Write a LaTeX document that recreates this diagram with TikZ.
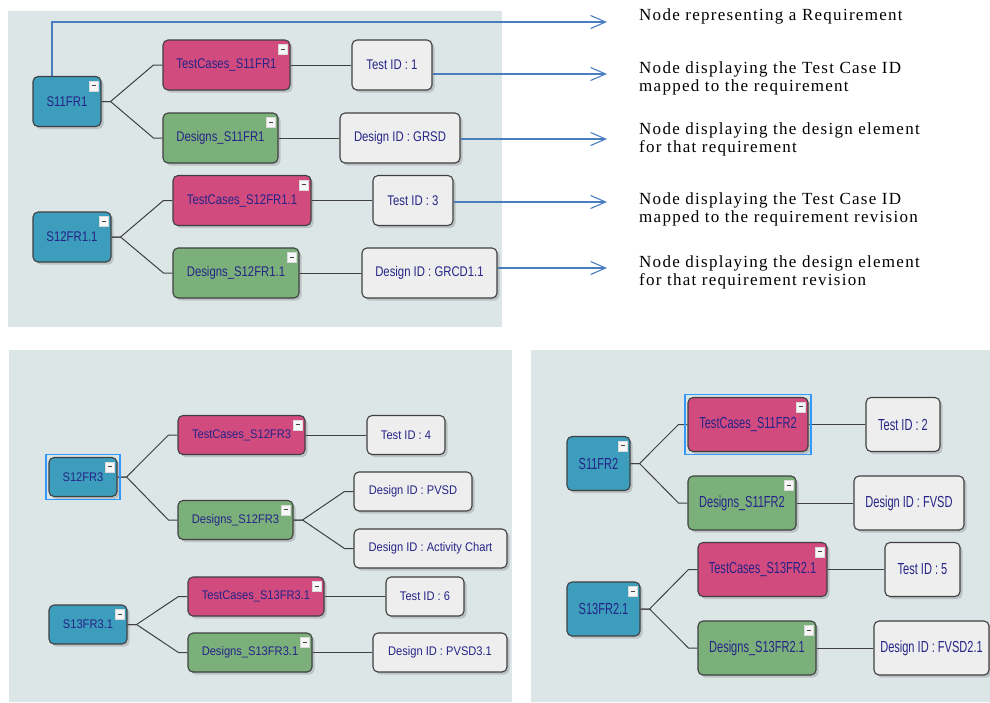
\documentclass[tikz,border=0pt]{standalone}
\usepackage{fontspec}
\setmainfont{Liberation Serif}
\newfontfamily\pfa[FakeStretch=0.81]{Liberation Sans}
\newfontfamily\pfb[FakeStretch=0.89]{Liberation Sans}
\newfontfamily\pfc[FakeStretch=0.69]{Liberation Sans}
\newfontfamily\notefont[LetterSpace=7.5]{Liberation Serif}
\usepackage{xcolor}
\usetikzlibrary{calc,arrows.meta,positioning,shadows}

\definecolor{reqcol}{RGB}{60,157,189}
\definecolor{tccol}{RGB}{210,75,126}
\definecolor{dgcol}{RGB}{123,176,123}
\definecolor{idcol}{RGB}{238,238,238}
\definecolor{panelcol}{RGB}{220,230,231}
\definecolor{inkcol}{RGB}{38,36,135}
\definecolor{notecol}{RGB}{74,124,192}
\definecolor{selcol}{RGB}{51,153,255}

\tikzset{
  box/.style={rectangle, rounded corners=5pt, draw=black!75, line width=1.1pt, text=inkcol, inner sep=2pt,
    drop shadow={shadow xshift=2.5pt, shadow yshift=-2.5pt, opacity=.35}},
  req/.style={box, fill=reqcol},
  tc/.style={box, fill=tccol},
  dg/.style={box, fill=dgcol},
  idn/.style={box, fill=idcol},
  pa/.style={font=\pfa\fontsize{14}{16}\selectfont, minimum height=50},
  pb/.style={font=\pfb\fontsize{12.5}{15}\selectfont, minimum height=39},
  pc/.style={font=\pfc\fontsize{16}{18}\selectfont, minimum height=54},
  link/.style={draw=black!75, line width=1pt},
  note/.style={draw=notecol, line width=1.1pt, -{Straight Barb[length=15pt,width=13pt]}},
  notetxt/.style={anchor=west, align=left, inner sep=0pt, font=\notefont\fontsize{17}{18}\selectfont},
  sel/.style={draw=selcol, line width=1.8pt},
  panel/.style={fill=panelcol},
  btn/.style={rectangle, draw=gray!30, fill=white!94!gray, inner sep=0pt, minimum width=9, minimum height=10,
    path picture={\draw[line width=1pt, black!75] ([xshift=-2pt]path picture bounding box.center) -- ([xshift=2pt]path picture bounding box.center);}}
}

\newcommand{\minusbtn}[1]{\node[btn] (#1-btn) at ($(#1.north east)+(-8,10)$) {};}
\newcommand{\branch}[2]{\draw[link] (#1.east) -- ++(9,0) -- ([xshift=-9pt]#2.west) -- (#2.west);}

\begin{document}
\begin{tikzpicture}[x=1pt, y=-1pt]
\useasboundingbox (0,0) rectangle (990,702);

% backgrounds
\fill[panel] (8,11) rectangle (502,327);
\fill[panel] (9,350) rectangle (512,702);
\fill[panel] (531,350) rectangle (990,702);

% top panel
\node[req, pa, minimum width=68] (r1) at (67,101.5) {S11FR1};
\node[tc, pa, minimum width=127] (tc1) at (226.5,65) {TestCases\_S11FR1};
\node[idn, pa, minimum width=80] (t1) at (392,65) {Test ID : 1};
\node[dg, pa, minimum width=115] (d1) at (220.5,138) {Designs\_S11FR1};
\node[idn, pa, minimum width=120] (g1) at (400,138) {Design ID : GRSD};
\node[req, pa, minimum width=78] (r2) at (72,237) {S12FR1.1};
\node[tc, pa, minimum width=138] (tc2) at (242,200.5) {TestCases\_S12FR1.1};
\node[idn, pa, minimum width=80] (t3) at (413,200.5) {Test ID : 3};
\node[dg, pa, minimum width=126] (d2) at (236,273) {Designs\_S12FR1.1};
\node[idn, pa, minimum width=135] (g2) at (429.5,273) {Design ID : GRCD1.1};

\branch{r1}{tc1}
\branch{r1}{d1}
\branch{r2}{tc2}
\branch{r2}{d2}
\draw[link] (tc1) -- (t1);
\draw[link] (d1) -- (g1);
\draw[link] (tc2) -- (t3);
\draw[link] (d2) -- (g2);

% bottom left panel
\node[req, pb, minimum width=68] (r3) at (83,477) {S12FR3};
\node[tc, pb, minimum width=127] (tc3) at (241.5,435) {TestCases\_S12FR3};
\node[idn, pb, minimum width=78] (t4) at (406,435) {Test ID : 4};
\node[dg, pb, minimum width=115] (d3) at (235.5,520) {Designs\_S12FR3};
\node[idn, pb, minimum width=118] (gp) at (413,491.5) {Design ID : PVSD};
\node[idn, pb, minimum width=153] (ga) at (430.5,548.5) {Design ID : Activity Chart};
\node[req, pb, minimum width=78] (r4) at (88,624.5) {S13FR3.1};
\node[tc, pb, minimum width=136] (tc4) at (256,596.5) {TestCases\_S13FR3.1};
\node[idn, pb, minimum width=78] (t6) at (425,596.5) {Test ID : 6};
\node[dg, pb, minimum width=124] (d4) at (250,652.5) {Designs\_S13FR3.1};
\node[idn, pb, minimum width=134] (gv) at (440,652.5) {Design ID : PVSD3.1};

\branch{r3}{tc3}
\branch{r3}{d3}
\branch{d3}{gp}
\branch{d3}{ga}
\branch{r4}{tc4}
\branch{r4}{d4}
\draw[link] (tc3) -- (t4);
\draw[link] (tc4) -- (t6);
\draw[link] (d4) -- (gv);

% bottom right panel
\node[req, pc, minimum width=63] (r5) at (598.5,463.5) {S11FR2};
\node[tc, pc, minimum width=120] (tc5) at (748,424.5) {TestCases\_S11FR2};
\node[idn, pc, minimum width=74] (t2) at (903,424.5) {Test ID : 2};
\node[dg, pc, minimum width=108] (d5) at (742,503) {Designs\_S11FR2};
\node[idn, pc, minimum width=110] (gf) at (909,503) {Design ID : FVSD};
\node[req, pc, minimum width=73] (r6) at (603.5,609) {S13FR2.1};
\node[tc, pc, minimum width=129] (tc6) at (762.5,569.5) {TestCases\_S13FR2.1};
\node[idn, pc, minimum width=75] (t5) at (922.5,569.5) {Test ID : 5};
\node[dg, pc, minimum width=118] (d6) at (757,648) {Designs\_S13FR2.1};
\node[idn, pc, minimum width=115] (gw) at (931.5,648) {Design ID : FVSD2.1};

\branch{r5}{tc5}
\branch{r5}{d5}
\branch{r6}{tc6}
\branch{r6}{d6}
\draw[link] (tc5) -- (t2);
\draw[link] (d5) -- (gf);
\draw[link] (tc6) -- (t5);
\draw[link] (d6) -- (gw);

\foreach \n in {r1,tc1,d1,r2,tc2,d2,r3,tc3,d3,r4,tc4,d4,r5,tc5,d5,r6,tc6,d6}
  {\minusbtn{\n}}

% selected nodes
\draw[sel] ([shift={(-2.5,-2.5)}]r3.north west) rectangle ([shift={(2.5,2.5)}]r3.south east);
\draw[sel] ([shift={(-2.5,-2.5)}]tc5.north west) rectangle ([shift={(2.5,2.5)}]tc5.south east);

% legend
\coordinate (a1) at (607,22);
\coordinate (a2) at (607,74);
\coordinate (a3) at (607,139);
\coordinate (a4) at (607,202);
\coordinate (a5) at (607,268);
\draw[note] ([xshift=-15pt]r1.north) |- (a1);
\draw[note] (t1.east |- a2) -- (a2);
\draw[note] (g1.east |- a3) -- (a3);
\draw[note] (t3.east |- a4) -- (a4);
\draw[note] (g2.east |- a5) -- (a5);

\node[notetxt] (n1) at (639,16) {Node representing a Requirement};
\node[notetxt] (n2) at (639,78) {Node displaying the Test Case ID\\mapped to the requirement};
\node[notetxt] (n3) at (639,139) {Node displaying the design element\\for that requirement};
\node[notetxt] (n4) at (639,209.5) {Node displaying the Test Case ID\\mapped to the requirement revision};
\node[notetxt] (n5) at (639,272) {Node displaying the design element\\for that requirement revision};

\end{tikzpicture}
\end{document}
